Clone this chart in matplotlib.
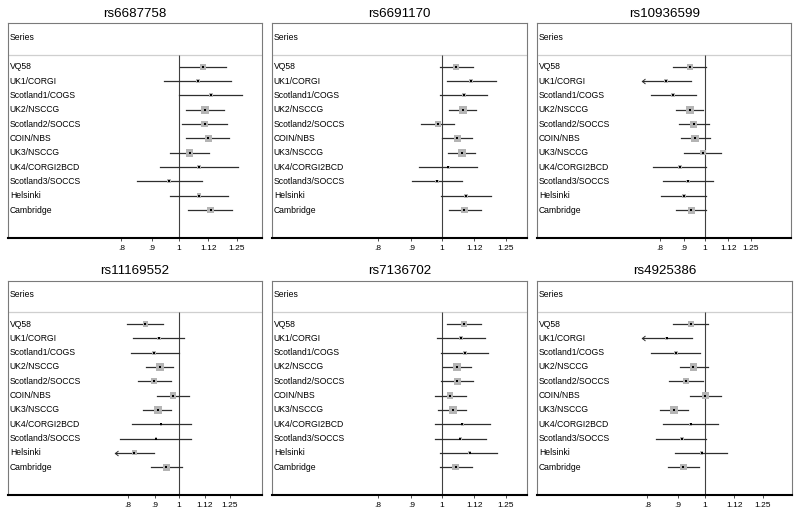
import numpy as np
import matplotlib
matplotlib.use("Agg")
import matplotlib.pyplot as plt
from matplotlib.path import Path
from matplotlib.transforms import blended_transform_factory

plt.rcParams['font.family'] = ['Liberation Sans', 'DejaVu Sans']

studies = ["VQ58", "UK1/CORGI", "Scotland1/COGS", "UK2/NSCCG", "Scotland2/SOCCS", "COIN/NBS",
           "UK3/NSCCG", "UK4/CORGI2BCD", "Scotland3/SOCCS", "Helsinki", "Cambridge"]
snps = ["rs6687758", "rs6691170", "rs10936599", "rs11169552", "rs7136702", "rs4925386"]
tick_vals = [0.8, 0.9, 1, 1.12, 1.25]
tick_labels = [".8", ".9", "1", "1.12", "1.25"]

# odds ratios with 95% CI
or_6687758 = [1.097, 1.076, 1.132, 1.107, 1.104, 1.120, 1.041, 1.080, 0.963, 1.080, 1.129]
lo_6687758 = [1.004, 0.945, 1.000, 1.027, 1.010, 1.027, 0.966, 0.929, 0.849, 0.966, 1.035]
hi_6687758 = [1.197, 1.222, 1.277, 1.190, 1.202, 1.213, 1.121, 1.256, 1.093, 1.207, 1.229]

or_6691170 = [1.051, 1.107, 1.079, 1.076, 0.988, 1.055, 1.073, 1.023, 0.984, 1.088, 1.082]
lo_6691170 = [0.994, 1.018, 0.994, 1.027, 0.929, 1.001, 1.022, 0.924, 0.901, 0.997, 1.027]
hi_6691170 = [1.115, 1.206, 1.171, 1.128, 1.045, 1.112, 1.124, 1.129, 1.074, 1.188, 1.144]

or_10936599 = [0.928, 0.825, 0.856, 0.928, 0.947, 0.952, 0.990, 0.885, 0.920, 0.901, 0.934]
lo_10936599 = [0.853, 0.733, 0.766, 0.866, 0.880, 0.888, 0.904, 0.776, 0.813, 0.806, 0.866]
hi_10936599 = [1.003, 0.932, 0.955, 0.989, 1.021, 1.023, 1.083, 1.003, 1.038, 1.005, 1.003]

or_11169552 = [0.863, 0.915, 0.897, 0.921, 0.897, 0.974, 0.913, 0.924, 0.903, 0.822, 0.945]
lo_11169552 = [0.796, 0.819, 0.809, 0.864, 0.837, 0.909, 0.855, 0.813, 0.772, 0.755, 0.883]
hi_11169552 = [0.934, 1.021, 1.000, 0.975, 0.966, 1.043, 0.967, 1.052, 1.055, 0.896, 1.012]

or_7136702 = [1.081, 1.068, 1.083, 1.055, 1.056, 1.029, 1.038, 1.074, 1.067, 1.101, 1.050]
lo_7136702 = [1.019, 0.982, 0.998, 1.003, 0.998, 0.975, 0.988, 0.975, 0.977, 0.995, 0.994]
hi_7136702 = [1.146, 1.160, 1.173, 1.105, 1.115, 1.087, 1.089, 1.183, 1.165, 1.213, 1.110]

or_4925386 = [0.946, 0.862, 0.893, 0.956, 0.929, 1.000, 0.887, 0.946, 0.914, 0.987, 0.920]
lo_4925386 = [0.885, 0.783, 0.812, 0.906, 0.871, 0.944, 0.840, 0.849, 0.827, 0.890, 0.865]
hi_4925386 = [1.012, 0.952, 0.981, 1.012, 0.991, 1.062, 0.935, 1.053, 1.003, 1.087, 0.978]

# lower CI bound runs off the scale (drawn as an arrow)
truncated = {"rs10936599": ["UK1/CORGI"], "rs11169552": ["Helsinki"], "rs4925386": ["UK1/CORGI"]}

data = [(or_6687758, lo_6687758, hi_6687758), (or_6691170, lo_6691170, hi_6691170),
        (or_10936599, lo_10936599, hi_10936599), (or_11169552, lo_11169552, hi_11169552),
        (or_7136702, lo_7136702, hi_7136702), (or_4925386, lo_4925386, hi_4925386)]

# panel boxes in pixels (left, top, right, bottom) and x-range of each panel
W, H = 800, 517
boxes = [(8.3, 23.3, 262.3, 238.3), (272.3, 23.3, 526.7, 238.3), (537.3, 23.3, 791.0, 238.3),
         (8.3, 280.7, 261.7, 495.3), (272.3, 280.7, 526.7, 495.3), (537.3, 280.7, 791.7, 495.3)]
xlims = [(0.517, 1.379), (0.555, 1.343), (0.4395, 1.524),
         (0.473, 1.437), (0.555, 1.343), (0.523, 1.3976)]

arrow = Path([(1.2, 1.0), (0.0, 0.0), (1.2, -1.0)], [Path.MOVETO, Path.LINETO, Path.LINETO])

fig = plt.figure(figsize=(8, 5.17), dpi=100)

for k, snp in enumerate(snps):
    x0, y0, x1, y1 = boxes[k]
    ax = fig.add_axes([x0 / W, 1 - y1 / H, (x1 - x0) / W, (y1 - y0) / H])
    ors, los, his = [np.array(a) for a in data[k]]
    n = len(studies)
    ytop, ybot = -3.03, 11.97
    header_y = -0.82

    ax.set_xscale('log')
    ax.set_xlim(*xlims[k])
    ax.set_ylim(ybot, ytop)
    ax.xaxis.set_minor_locator(matplotlib.ticker.NullLocator())
    ax.set_xticks(tick_vals)
    ax.set_xticklabels(tick_labels)
    ax.set_yticks([])
    ax.tick_params(axis='x', direction='out', length=2.5, width=0.6, labelsize=6, pad=2,
                   color='#333333')
    for side in ['top', 'left', 'right']:
        ax.spines[side].set_color('#7a7a7a')
        ax.spines[side].set_linewidth(0.8)
    ax.spines['bottom'].set_color('black')
    ax.spines['bottom'].set_linewidth(1.5)

    ax.axhline(header_y, color='#cfcfcf', lw=0.9)
    ax.vlines(1, header_y, ybot, color='#404040', lw=0.8)

    tr = blended_transform_factory(ax.transAxes, ax.transData)
    ax.text(0.006, -2.05, "Series", transform=tr, va='center', ha='left', fontsize=6.2)

    # box area follows study weight (inverse variance)
    se = (np.log(his) - np.log(los)) / 3.92
    side_px = 8.0 * (se.min() / se) ** 1.3
    side_pt = side_px * 72 / 100

    for i, name in enumerate(studies):
        ax.text(0.006, i, name, transform=tr, va='center', ha='left', fontsize=6.2)
        ax.plot([los[i], his[i]], [i, i], color='#2e2e2e', lw=0.9, zorder=2)
        if name in truncated.get(snp, []):
            ax.plot(los[i], i, marker=arrow, ms=4.3, mfc='none', mec='#2e2e2e', mew=0.7,
                    zorder=2)
    ax.scatter(ors, range(n), marker='s', s=side_pt ** 2, color='#b4b4b4', lw=0, zorder=3)
    ax.scatter(ors, range(n), marker='s', s=2.0 ** 2, color='black', lw=0, zorder=4)

    ax.text(0.5, 1 + 9.3 / (y1 - y0), snp, transform=ax.transAxes,
            ha='center', va='center', fontsize=9.6)

fig.savefig("out.png", dpi=100)
